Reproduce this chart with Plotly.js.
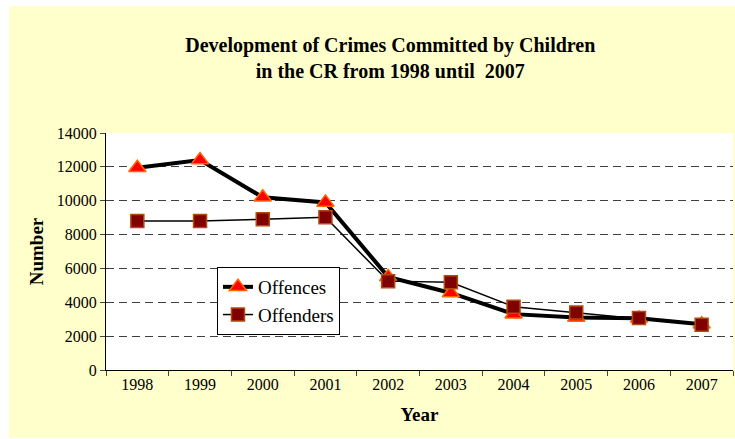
<!DOCTYPE html>
<html>
<head>
<meta charset="utf-8">
<script src="https://cdn.plot.ly/plotly-3.0.1.min.js"></script>
<style>
html,body{margin:0;padding:0;background:#ffffff;}
#frame{position:absolute;left:9px;top:6px;width:726px;height:432px;background:#ffffcc;}
#chart{position:absolute;left:0;top:0;width:735px;height:439px;}
</style>
</head>
<body>
<div id="frame"></div>
<div id="chart"></div>
<script>
const years = ['1998','1999','2000','2001','2002','2003','2004','2005','2006','2007'];
const offences = [11950, 12400, 10200, 9900, 5500, 4550, 3300, 3100, 3050, 2700];
const offenders = [8800, 8800, 8900, 9020, 5250, 5180, 3740, 3390, 3070, 2680];
const yTicks = [0, 2000, 4000, 6000, 8000, 10000, 12000, 14000];

const serifFam = 'Liberation Serif';

const traces = [
  {x: years, y: offences, name: 'Offences', type: 'scatter', mode: 'lines+markers',
   line: {color: '#000000', width: 4},
   marker: {symbol: 'triangle-up', size: 15, color: '#ff0000', line: {color: '#ff6600', width: 1.5}}},
  {x: years, y: offenders, name: 'Offenders', type: 'scatter', mode: 'lines+markers',
   line: {color: '#000000', width: 1.5},
   marker: {symbol: 'square', size: 13, color: '#800000', line: {color: '#b04a10', width: 1.5}}}
];

const layout = {
  width: 735, height: 439,
  margin: {l: 106, r: 2, t: 133, b: 69, pad: 0},
  paper_bgcolor: 'rgba(0,0,0,0)', plot_bgcolor: '#ffffff',
  font: {family: serifFam, color: '#000000', size: 19},
  title: {text: '<b>Development of Crimes Committed by Children<br>in the CR from 1998 until  2007</b>',
    font: {family: serifFam, size: 20, color: '#000000'},
    xref: 'container', x: 0.531, xanchor: 'center', yref: 'container', y: 0.882, yanchor: 'middle'},
  legend: {x: 0.177, y: 0.4346, xanchor: 'left', yanchor: 'top',
    bgcolor: '#ffffff', bordercolor: '#000000', borderwidth: 1},
  xaxis: {type: 'category', range: [-0.5, 9.5], autorange: false, tickson: 'boundaries', ticks: 'outside', ticklen: 5,
    showline: true, linecolor: '#000000', showgrid: false, zeroline: false,
    tickfont: {family: serifFam, size: 16},
    title: {text: '<b>Year</b>', font: {family: serifFam, size: 19}, standoff: 15}},
  yaxis: {range: [0, 14000], autorange: false, tickvals: yTicks, tickformat: 'd', ticks: 'outside', ticklen: 5,
    showline: true, linecolor: '#000000', showgrid: true, gridcolor: '#404040', griddash: '8px,5px', zeroline: false,
    tickfont: {family: serifFam, size: 16},
    title: {text: '<b>Number</b>', font: {family: serifFam, size: 19}, standoff: 8}}
};

const config = {displayModeBar: false, staticPlot: true};
Plotly.newPlot('chart', traces, layout, config);
if (document.fonts && document.fonts.load) {
  Promise.all([
    document.fonts.load('16px "Liberation Serif"'),
    document.fonts.load('bold 20px "Liberation Serif"')
  ]).then(function () {
    Plotly.newPlot('chart', traces, layout, config);
  });
}
</script>
</body>
</html>
